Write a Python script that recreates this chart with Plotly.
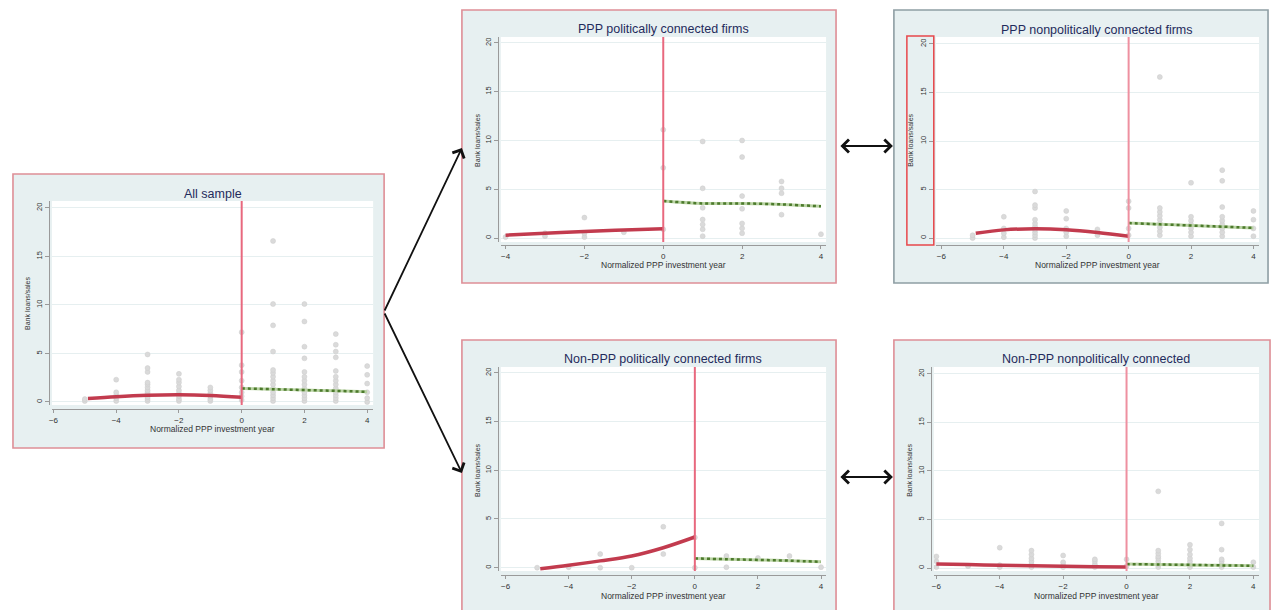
import plotly.graph_objects as go

W, H = 1279, 610

# ---------------- data ----------------
years_ticks_full = [-6, -4, -2, 0, 2, 4]
years_ticks_ppp = [-4, -2, 0, 2, 4]
y_ticks = [0, 5, 10, 15, 20]

titles = ["All sample", "PPP politically connected firms", "PPP nonpolitically connected firms",
          "Non-PPP politically connected firms", "Non-PPP nonpolitically connected"]
x_title = "Normalized PPP investment year"
y_title = "Bank loans/sales"

# scatter points: year -> bank loans/sales values
all_pts = {-5: [0.1, 0.3], -4: [0.1, 0.4, 0.7, 1.0, 2.3],
           -3: [0.1, 0.3, 0.5, 0.8, 1.0, 1.2, 1.5, 1.8, 2.0, 3.1, 3.5, 4.9],
           -2: [0.1, 0.3, 0.6, 0.9, 1.2, 1.6, 2.0, 2.3, 2.9],
           -1: [0.1, 0.3, 0.6, 0.9, 1.2, 1.5],
           0: [0.2, 0.6, 1.0, 1.5, 2.2, 3.1, 3.8, 7.2],
           1: [0.1, 0.4, 0.7, 1.0, 1.4, 1.8, 2.2, 2.6, 3.0, 3.3, 5.2, 7.9, 10.1, 16.6],
           2: [0.1, 0.4, 0.7, 1.0, 1.4, 1.8, 2.2, 2.6, 3.1, 4.5, 5.7, 8.3, 10.1],
           3: [0.1, 0.4, 0.7, 1.0, 1.4, 1.8, 2.2, 2.6, 3.2, 4.6, 5.2, 5.9, 7.0],
           4: [0.0, 0.4, 1.0, 1.9, 2.8, 3.7]}
ppp_pc_pts = {-4: [0.1], -3: [0.2, 0.5], -2: [0.1, 0.5, 2.1], -1: [0.6],
              0: [0.9, 7.2, 11.1],
              1: [0.2, 0.9, 1.4, 1.9, 3.1, 5.1, 9.9],
              2: [0.5, 1.0, 1.5, 3.0, 4.3, 8.3, 10.0],
              3: [2.4, 4.6, 5.1, 5.8], 4: [0.4]}
ppp_npc_pts = {-5: [0.0, 0.3], -4: [0.1, 0.5, 1.0, 2.2],
               -3: [0.0, 0.3, 0.6, 0.9, 1.2, 1.5, 1.9, 3.1, 3.4, 4.8],
               -2: [0.2, 0.6, 1.0, 2.0, 2.8], -1: [0.3, 0.9],
               0: [0.3, 1.0, 3.1, 3.8],
               1: [0.3, 0.7, 1.1, 1.5, 1.9, 2.3, 2.7, 3.1, 16.6],
               2: [0.2, 0.6, 1.0, 1.4, 1.8, 2.2, 5.7],
               3: [0.2, 0.6, 1.0, 1.4, 1.8, 2.2, 3.2, 5.9, 7.0],
               4: [0.2, 1.0, 1.9, 2.8]}
nppp_pc_pts = {-5: [0.0], -4: [0.05], -3: [0.0, 1.4], -2: [0.0], -1: [1.4, 4.2],
               0: [0.0, 3.1], 1: [0.05, 1.2], 2: [1.0], 3: [1.2], 4: [0.05]}
nppp_npc_pts = {-6: [0.1, 0.7, 1.2], -5: [0.2], -4: [0.1, 0.3, 2.1],
                -3: [0.1, 0.4, 0.7, 1.0, 1.4, 1.8], -2: [0.1, 0.3, 0.6, 1.3],
                -1: [0.1, 0.4, 0.7, 0.9], 0: [0.2, 0.9],
                1: [0.1, 0.4, 0.7, 1.0, 1.2, 1.5, 1.8, 7.9],
                2: [0.1, 0.4, 0.7, 1.0, 1.4, 1.9, 2.4],
                3: [0.1, 0.4, 0.7, 0.9, 1.9, 4.6], 4: [0.1, 0.6]}

# fitted lines (pre = before investment, post = after)
all_pre_x = [-4.9, -4, -3, -2, -1, 0]
all_pre_y = [0.35, 0.55, 0.7, 0.75, 0.68, 0.5]
all_post_x = [0, 1, 2, 3, 4]
all_post_y = [1.4, 1.32, 1.23, 1.15, 1.05]

ppp_pc_pre_x = [-4, -3, -2, -1, 0]
ppp_pc_pre_y = [0.3, 0.5, 0.68, 0.82, 0.95]
ppp_pc_post_x = [0, 1, 2, 3, 4]
ppp_pc_post_y = [3.8, 3.55, 3.55, 3.45, 3.25]

ppp_npc_pre_x = [-4.9, -4, -3, -2, -1, 0]
ppp_npc_pre_y = [0.5, 0.85, 0.96, 0.86, 0.58, 0.2]
ppp_npc_post_x = [0, 1, 2, 3, 4]
ppp_npc_post_y = [1.55, 1.42, 1.3, 1.18, 1.05]

nppp_pc_pre_x = [-4.9, -4, -3, -2, -1, 0]
nppp_pc_pre_y = [-0.1, 0.25, 0.7, 1.2, 2.05, 3.15]
nppp_pc_post_x = [0, 1, 2, 3, 4]
nppp_pc_post_y = [0.95, 0.87, 0.8, 0.72, 0.6]

nppp_npc_pre_x = [-6, -5, -4, -3, -2, -1, 0]
nppp_npc_pre_y = [0.42, 0.36, 0.3, 0.24, 0.19, 0.15, 0.1]
nppp_npc_post_x = [0, 1, 2, 3, 4]
nppp_npc_post_y = [0.41, 0.37, 0.33, 0.28, 0.24]

# ---------------- layout geometry (pixels) ----------------
def fx(p):
    return p / W

def fy(p):
    return 1 - p / H

panels = [
    dict(pts=all_pts, pre=(all_pre_x, all_pre_y), post=(all_post_x, all_post_y),
         white=(49, 371, 201, 405), xr=[-6.05, 4.19], yr=[-0.31, 20.72], yline=46, xline=409,
         xt=years_ticks_full, frame=(10, 382, 174, 448), fcol="#DE8E96", vcol="#E8687E",
         title=(210, 194), ytl=(24, 303), xtl=(210, 429)),
    dict(pts=ppp_pc_pts, pre=(ppp_pc_pre_x, ppp_pc_pre_y), post=(ppp_pc_post_x, ppp_pc_post_y),
         white=(499, 825, 37, 242), xr=[-4.12, 4.13], yr=[-0.4, 20.6], yline=496, xline=245,
         xt=years_ticks_ppp, frame=(460, 835, 10, 283), fcol="#DE8E96", vcol="#E8687E",
         title=(662, 29), ytl=(475, 140), xtl=(662, 265)),
    dict(pts=ppp_npc_pts, pre=(ppp_npc_pre_x, ppp_npc_pre_y), post=(ppp_npc_post_x, ppp_npc_post_y),
         white=(935, 1259, 37, 242), xr=[-6.18, 4.18], yr=[-0.4, 20.72], yline=932.5, xline=245,
         xt=years_ticks_full, frame=(893, 1268, 10, 283), fcol="#8E9EA4", vcol="#EE90A0",
         title=(1097, 30), ytl=(909, 140), xtl=(1097, 265)),
    dict(pts=nppp_pc_pts, pre=(nppp_pc_pre_x, nppp_pc_pre_y), post=(nppp_pc_post_x, nppp_pc_post_y),
         white=(499, 825, 367, 571), xr=[-6.15, 4.16], yr=[-0.34, 20.6], yline=496, xline=575,
         xt=years_ticks_full, frame=(460, 835, 340, 640), fcol="#DE8E96", vcol="#E8687E",
         title=(662, 359), ytl=(475, 470), xtl=(662, 596)),
    dict(pts=nppp_npc_pts, pre=(nppp_npc_pre_x, nppp_npc_pre_y), post=(nppp_npc_post_x, nppp_npc_post_y),
         white=(933, 1259, 367, 571), xr=[-6.08, 4.18], yr=[-0.3, 20.7], yline=930, xline=575,
         xt=years_ticks_full, frame=(893, 1270, 340, 640), fcol="#DE8E96", vcol="#EE90A0",
         title=(1096, 359), ytl=(908, 470), xtl=(1096, 596)),
]

FONT = "Liberation Sans, Arial, Helvetica, sans-serif"
FRAME_FILL = "#E7F0F1"
GRID = "#E6EFF0"
AXIS = "#9A9A9A"
RED = "#C23B4E"
GREEN_DARK = "#4C7A2C"
GREEN_LIGHT = "#B9D3A3"
TITLE_COL = "#1F2B5C"

fig = go.Figure()
shapes = []
annotations = []
layout_axes = {}

for i, p in enumerate(panels):
    n = "" if i == 0 else str(i + 1)
    xa, ya = "x" + n, "y" + n
    # scatter
    xs, ys = [], []
    for yr_, vals in p["pts"].items():
        for v in vals:
            xs.append(yr_)
            ys.append(v)
    fig.add_trace(go.Scatter(x=xs, y=ys, mode="markers", xaxis=xa, yaxis=ya,
                             marker=dict(size=5, color="#DADADA", line=dict(width=0.5, color="#CDCDCD")),
                             showlegend=False, hoverinfo="skip"))
    # fitted pre line
    fig.add_trace(go.Scatter(x=p["pre"][0], y=p["pre"][1], mode="lines", xaxis=xa, yaxis=ya,
                             line=dict(color=RED, width=3.5, shape="spline"),
                             showlegend=False, hoverinfo="skip"))
    # fitted post line (light base + dark dotted)
    fig.add_trace(go.Scatter(x=p["post"][0], y=p["post"][1], mode="lines", xaxis=xa, yaxis=ya,
                             line=dict(color=GREEN_LIGHT, width=3, shape="spline"),
                             showlegend=False, hoverinfo="skip"))
    fig.add_trace(go.Scatter(x=p["post"][0], y=p["post"][1], mode="lines", xaxis=xa, yaxis=ya,
                             line=dict(color=GREEN_DARK, width=2.5, dash="3px,3px", shape="spline"),
                             showlegend=False, hoverinfo="skip"))

    wl, wr, wt, wb = p["white"]
    fl, fr, ft, fb = p["frame"]
    # frame
    shapes.append(dict(type="rect", xref="paper", yref="paper", layer="below",
                       x0=fx(fl), x1=fx(fr), y0=fy(fb), y1=fy(ft),
                       fillcolor=FRAME_FILL, line=dict(color=p["fcol"], width=1.6)))
    # white plot region
    shapes.append(dict(type="rect", xref="paper", yref="paper", layer="below",
                       x0=fx(wl), x1=fx(wr), y0=fy(wb), y1=fy(wt),
                       fillcolor="white", line=dict(width=0)))
    # vertical line at 0
    shapes.append(dict(type="line", xref=xa, yref=ya + " domain", x0=0, x1=0, y0=0, y1=1,
                       line=dict(color=p["vcol"], width=2), layer="above"))

    xkey = "xaxis" + n
    ykey = "yaxis" + n
    layout_axes[xkey] = dict(domain=[fx(wl), fx(wr)], range=p["xr"], anchor="free",
                             position=fy(p["xline"]), tickvals=p["xt"],
                             ticks="outside", ticklen=3, tickcolor=AXIS, showline=True,
                             linecolor=AXIS, linewidth=1, showgrid=False, zeroline=False,
                             tickfont=dict(size=8, color="#333333", family=FONT), fixedrange=True)
    layout_axes[ykey] = dict(domain=[fy(wb), fy(wt)], range=p["yr"], anchor="free",
                             position=fx(p["yline"]), tickvals=y_ticks, tickangle=-90,
                             ticks="outside", ticklen=4, tickcolor=AXIS, showline=True,
                             linecolor=AXIS, linewidth=1, showgrid=True, gridcolor=GRID,
                             gridwidth=1, zeroline=False,
                             tickfont=dict(size=7.5, color="#333333", family=FONT), fixedrange=True)

    # titles
    annotations.append(dict(text=titles[i], xref="paper", yref="paper",
                            x=fx(p["title"][0]), y=fy(p["title"][1]), showarrow=False,
                            xanchor="center", yanchor="middle",
                            font=dict(size=12.5, color=TITLE_COL, family=FONT)))
    annotations.append(dict(text=y_title, xref="paper", yref="paper", textangle=-90,
                            x=fx(p["ytl"][0]), y=fy(p["ytl"][1]), showarrow=False,
                            xanchor="center", yanchor="middle",
                            font=dict(size=7, color="#333333", family=FONT)))
    annotations.append(dict(text=x_title, xref="paper", yref="paper",
                            x=fx(p["xtl"][0]), y=fy(p["xtl"][1]), showarrow=False,
                            xanchor="center", yanchor="middle",
                            font=dict(size=8.5, color="#333333", family=FONT)))

# red highlight box around y-axis labels in the PPP nonpolitically connected panel
shapes.append(dict(type="rect", xref="paper", yref="paper", layer="above",
                   x0=fx(906), x1=fx(933), y0=fy(245), y1=fy(36),
                   fillcolor="rgba(0,0,0,0)", line=dict(color="#E8474B", width=1.5)))

# arrows
def arrow(tail, head, both=False):
    return dict(x=fx(head[0]), y=fy(head[1]), xref="paper", yref="paper",
                ax=tail[0] - head[0], ay=tail[1] - head[1], axref="pixel", ayref="pixel",
                text="", showarrow=True, arrowhead=4, startarrowhead=4, arrowsize=1.4,
                startarrowsize=1.4, arrowwidth=1.8, arrowcolor="#111111",
                arrowside="end+start" if both else "end")

annotations.append(arrow((382, 312), (460, 148)))
annotations.append(arrow((382, 312), (460, 473)))
annotations.append(arrow((838, 146), (892, 146), both=True))
annotations.append(arrow((838, 477), (892, 477), both=True))

fig.update_layout(width=W, height=H, margin=dict(l=0, r=0, t=0, b=0),
                  paper_bgcolor="white", plot_bgcolor="rgba(0,0,0,0)",
                  shapes=shapes, annotations=annotations, showlegend=False,
                  font=dict(family=FONT), **layout_axes)

fig.write_html("out.html", config={"displayModeBar": False})
